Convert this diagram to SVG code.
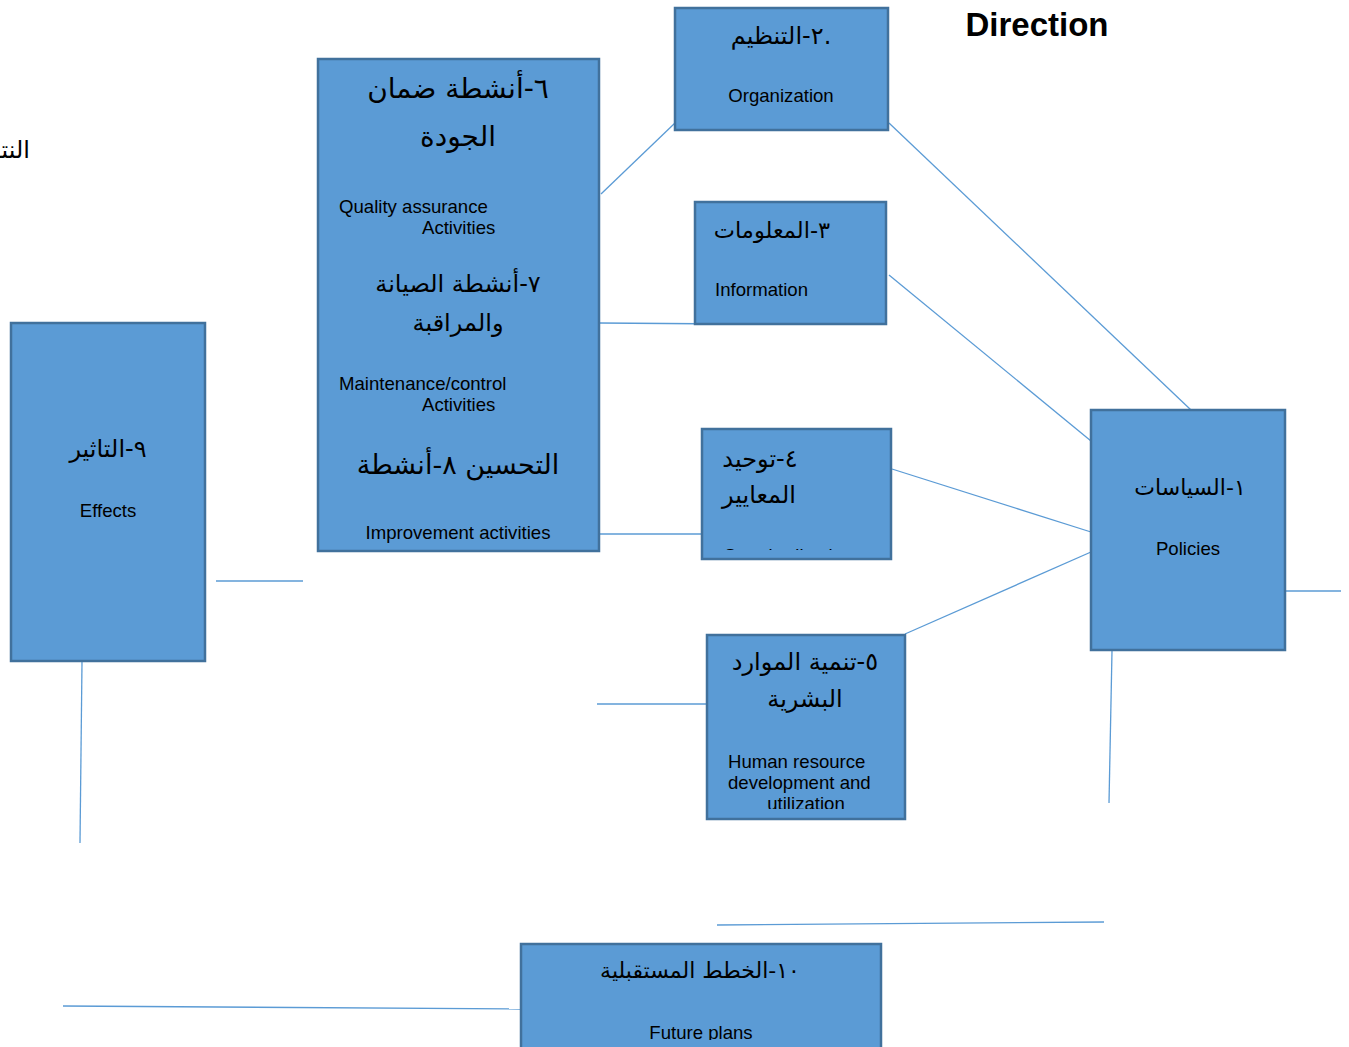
<svg xmlns="http://www.w3.org/2000/svg" width="1349" height="1047" viewBox="0 0 1349 1047">
<style>
.box{fill:#5B9BD5;stroke:#41719C;stroke-width:2.5}
.ln{stroke:#5B9BD5;stroke-width:1.3;fill:none}
.en{font-family:"Liberation Sans",Arial,sans-serif;font-size:18.6px;fill:#000}
.ar{font-family:"DejaVu Sans","Liberation Sans",sans-serif;font-size:24px;fill:#000}
.c{text-anchor:middle}
</style>
<defs>
<clipPath id="clipStd"><rect x="702" y="429" width="189" height="121"/></clipPath>
<clipPath id="clipHR"><rect x="707" y="635" width="198" height="174"/></clipPath>
<clipPath id="clipFut"><rect x="521" y="944" width="360" height="96"/></clipPath>
</defs>
<rect width="1349" height="1047" fill="#fff"/>
<g id="connectors">
<line class="ln" x1="601" y1="194" x2="675" y2="123"/>
<line class="ln" x1="889" y1="123" x2="1191" y2="410"/>
<line class="ln" x1="599" y1="323" x2="732" y2="324"/>
<line class="ln" x1="889" y1="275" x2="1091" y2="441"/>
<line class="ln" x1="599" y1="534" x2="702" y2="534"/>
<line class="ln" x1="892" y1="469" x2="1091" y2="532"/>
<line class="ln" x1="905" y1="634" x2="1091" y2="552"/>
<line class="ln" x1="597" y1="704" x2="707" y2="704"/>
<line class="ln" x1="1285" y1="591" x2="1341" y2="591"/>
<line class="ln" x1="1112" y1="651" x2="1109" y2="803"/>
<line class="ln" x1="717" y1="925" x2="1104" y2="922"/>
<line class="ln" x1="63" y1="1006" x2="521" y2="1009"/>
<line class="ln" x1="216" y1="581" x2="303" y2="581"/>
<line class="ln" x1="82" y1="662" x2="80" y2="843"/>
</g>
<text class="ar" x="30" y="158" direction="rtl" text-anchor="start">النتائج</text>
<text x="1037" y="36" text-anchor="middle" style="font-family:'Liberation Sans',Arial,sans-serif;font-size:33px;font-weight:bold">Direction</text>
<g id="n-quality">
<rect class="box" x="318" y="59" width="281" height="492"/>
<text class="ar c" x="458" y="98" direction="rtl" style="font-size:28px">٦-أنشطة ضمان</text>
<text class="ar c" x="458" y="146" direction="rtl" style="font-size:28px">الجودة</text>
<text class="en" x="339" y="213">Quality assurance</text>
<text class="en" x="422" y="234">Activities</text>
<text class="ar c" x="458" y="292" direction="rtl">٧-أنشطة الصيانة</text>
<text class="ar c" x="458" y="331" direction="rtl">والمراقبة</text>
<text class="en" x="339" y="390">Maintenance/control</text>
<text class="en" x="422" y="411">Activities</text>
<text class="ar c" x="458" y="474" direction="rtl" style="font-size:27px">التحسين ٨-أنشطة</text>
<text class="en c" x="458" y="539">Improvement activities</text>
</g>
<g id="n-org">
<rect class="box" x="675" y="8" width="213" height="122"/>
<text class="ar c" x="781" y="44" direction="rtl">.٢-التنظيم</text>
<text class="en c" x="781" y="102">Organization</text>
</g>
<g id="n-info">
<rect class="box" x="695" y="202" width="191" height="122"/>
<text class="ar c" x="772" y="238" direction="rtl" style="font-size:22.5px">٣-المعلومات</text>
<text class="en" x="715" y="296">Information</text>
</g>
<g id="n-std">
<rect class="box" x="702" y="429" width="189" height="130"/>
<text class="ar c" x="760" y="467" direction="rtl">٤-توحيد</text>
<text class="ar c" x="759" y="503" direction="rtl">المعايير</text>
<text class="en" x="724" y="562" clip-path="url(#clipStd)">Standardization</text>
</g>
<g id="n-hr">
<rect class="box" x="707" y="635" width="198" height="184"/>
<text class="ar c" x="805" y="670" direction="rtl">٥-تنمية الموارد</text>
<text class="ar c" x="805" y="707" direction="rtl">البشرية</text>
<text class="en" x="728" y="768">Human resource</text>
<text class="en" x="728" y="789">development and</text>
<text class="en c" x="806" y="810" clip-path="url(#clipHR)">utilization</text>
</g>
<g id="n-policies">
<rect class="box" x="1091" y="410" width="194" height="240"/>
<text class="ar c" x="1190" y="495" direction="rtl" style="font-size:22px">١-السياسات</text>
<text class="en c" x="1188" y="555">Policies</text>
</g>
<g id="n-effects">
<rect class="box" x="11" y="323" width="194" height="338"/>
<text class="ar c" x="108" y="457" direction="rtl">٩-التاثير</text>
<text class="en c" x="108" y="517">Effects</text>
</g>
<g id="n-future">
<rect class="box" x="521" y="944" width="360" height="110"/>
<text class="ar c" x="700" y="978" direction="rtl" style="font-size:22px">١٠-الخطط المستقبلية</text>
<text class="en c" x="701" y="1039" clip-path="url(#clipFut)">Future plans</text>
</g>
</svg>
